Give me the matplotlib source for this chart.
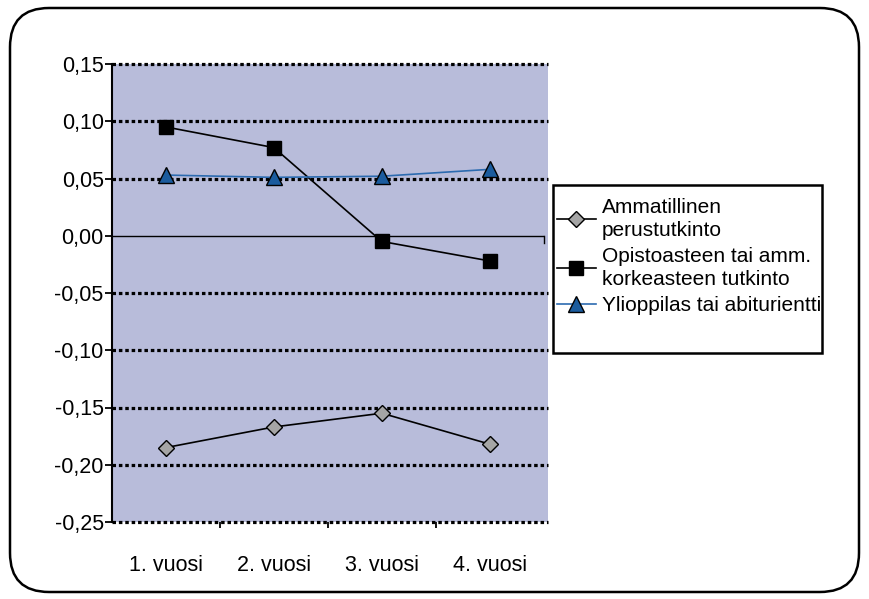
import matplotlib.pyplot as plt
from matplotlib.patches import FancyBboxPatch, Rectangle

plt.rcParams['font.family'] = ['Liberation Sans', 'DejaVu Sans']

# data
years = ['1. vuosi', '2. vuosi', '3. vuosi', '4. vuosi']
ammatillinen = [-0.185, -0.167, -0.155, -0.182]
opistoaste = [0.095, 0.077, -0.005, -0.022]
ylioppilas = [0.053, 0.051, 0.052, 0.058]
series_names = ['Ammatillinen\nperustutkinto',
                'Opistoasteen tai amm.\nkorkeasteen tutkinto',
                'Ylioppilas tai abiturientti']
yticks = [0.15, 0.10, 0.05, 0.00, -0.05, -0.10, -0.15, -0.20, -0.25]
ytick_labels = ['0,15', '0,10', '0,05', '0,00', '-0,05', '-0,10', '-0,15', '-0,20', '-0,25']

W, H = 869, 599
fig = plt.figure(figsize=(W / 100, H / 100), dpi=100)

# rounded outer frame
frame = FancyBboxPatch((10 / W, 7 / H), 849 / W, 584 / H,
                       boxstyle='round,pad=0,rounding_size=0.045',
                       transform=fig.transFigure, facecolor='none',
                       edgecolor='black', linewidth=1.8, mutation_aspect=W / H,
                       zorder=5)
fig.patches.append(frame)

ax = fig.add_axes([112 / W, (H - 522) / H, 436 / W, 458 / H])
ax.set_facecolor('#B8BCDA')
x = list(range(1, len(years) + 1))

# dotted gridlines at every tick value (not clipped at the edges)
for v in yticks:
    if v != 0:
        ax.axhline(v, color='black', linewidth=2.3, linestyle=(0, (1.1, 0.9)),
                   clip_on=False, zorder=1)
ax.hlines(0, 0.5, 4.5, color='black', linewidth=1.0, zorder=1)
ax.plot([4.5, 4.5], [0, -0.006], color='black', linewidth=1.0)

ax.plot(x, ammatillinen, color='black', linewidth=1.2, marker='D', markersize=8,
        markerfacecolor='#A5A5A5', markeredgecolor='black', markeredgewidth=1.0,
        label=series_names[0], zorder=3)
ax.plot(x, opistoaste, color='black', linewidth=1.2, marker='s', markersize=10,
        markerfacecolor='black', markeredgecolor='black',
        label=series_names[1], zorder=3)
ax.plot(x, ylioppilas, color='#2C6BB0', linewidth=1.2, marker='^', markersize=12,
        markerfacecolor='#1B5C9E', markeredgecolor='black', markeredgewidth=1.0,
        label=series_names[2], zorder=3)

ax.set_xlim(0.5, 4.54)
ax.set_ylim(-0.25, 0.15)
ax.set_yticks(yticks)
ax.set_yticklabels(ytick_labels, fontsize=15.5)
ax.tick_params(axis='y', direction='out', length=5, width=1.3, pad=1, color='black')

ax.set_xticks(x)
ax.set_xticklabels(years, fontsize=15.5)
ax.set_xticks([1.5, 2.5, 3.5], minor=True)
ax.tick_params(axis='x', which='major', length=0, pad=24)
ax.tick_params(axis='x', which='minor', direction='out', length=4, width=1.3)

for side in ['top', 'right', 'bottom']:
    ax.spines[side].set_visible(False)
ax.spines['left'].set_linewidth(1.5)
ax.spines['left'].set_color('black')

# legend box
fig.patches.append(Rectangle((553 / W, (H - 353) / H), 269 / W, 168 / H,
                             transform=fig.transFigure, facecolor='white',
                             edgecolor='black', linewidth=1.8, zorder=2))
leg = fig.legend(loc='upper left', bbox_to_anchor=(557 / W, (H - 198) / H),
                 frameon=False, fontsize=15, handlelength=1.85, handletextpad=0.3,
                 labelspacing=0.35, borderaxespad=0, borderpad=0)
for t in leg.get_texts():
    t.set_linespacing(1.25)
leg.set_zorder(3)

fig.savefig('out.png', dpi=100)
